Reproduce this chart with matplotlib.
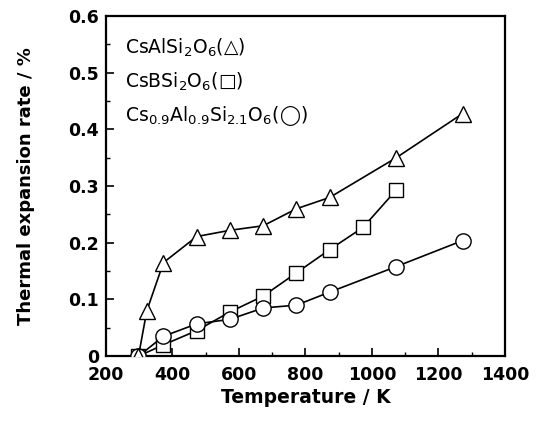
import matplotlib
matplotlib.use('Agg')
import matplotlib.pyplot as plt
from matplotlib.ticker import MultipleLocator

plt.rcParams['font.family'] = ['DejaVu Sans']

# CsAlSi2O6 (triangles)
t_al = [298, 323, 373, 473, 573, 673, 773, 873, 1073, 1273]
r_al = [0.0, 0.080, 0.165, 0.211, 0.222, 0.230, 0.260, 0.280, 0.350, 0.428]

# CsBSi2O6 (squares)
t_b = [298, 373, 473, 573, 673, 773, 873, 973, 1073]
r_b = [0.0, 0.020, 0.045, 0.078, 0.106, 0.147, 0.188, 0.227, 0.293]

# Cs0.9Al0.9Si2.1O6 (circles)
t_mix = [298, 373, 473, 573, 673, 773, 873, 1073, 1273]
r_mix = [0.0, 0.035, 0.057, 0.065, 0.085, 0.090, 0.113, 0.158, 0.204]

legend_lines = [r'CsAlSi$_2$O$_6$(△)', r'CsBSi$_2$O$_6$(□)',
                r'Cs$_{0.9}$Al$_{0.9}$Si$_{2.1}$O$_6$(◯)']

fig = plt.figure(figsize=(5.43, 4.21), dpi=100)
ax = fig.add_axes([0.195, 0.154, 0.735, 0.808])

style = dict(color='black', lw=1.2, mfc='white', mec='black', mew=1.0, zorder=3)
ax.plot(t_b, r_b, marker='s', ms=9.5, **style)
ax.plot(t_mix, r_mix, marker='o', ms=11, **style)
ax.plot(t_al, r_al, marker='^', ms=11, **style)

ax.set_xlim(200, 1400)
ax.set_ylim(0, 0.6)
ax.xaxis.set_major_locator(MultipleLocator(200))
ax.xaxis.set_minor_locator(MultipleLocator(100))
ax.yaxis.set_major_locator(MultipleLocator(0.1))
ax.yaxis.set_minor_locator(MultipleLocator(0.05))
ax.yaxis.set_major_formatter(lambda v, p: '0' if abs(v) < 1e-9 else f'{v:.1f}')
ax.tick_params(which='major', direction='in', length=6, width=1.2, labelsize=12.5)
ax.tick_params(axis='x', which='major', pad=7)
ax.tick_params(axis='y', which='major', pad=5)
ax.tick_params(which='minor', direction='in', length=3, width=1.0)
for lab in ax.get_xticklabels() + ax.get_yticklabels():
    lab.set_fontweight('bold')
for s in ax.spines.values():
    s.set_linewidth(1.6)

ax.set_xlabel('Temperature / K', fontsize=13.5, fontweight='bold', labelpad=3)
ax.set_ylabel('Thermal expansion rate / %', fontsize=13, fontweight='bold', labelpad=24)

for i, txt in enumerate(legend_lines):
    ax.text(0.048, 0.905 - i * 0.1, txt, transform=ax.transAxes, fontsize=13.5,
            va='center', ha='left')

fig.savefig('out.png', dpi=100)
